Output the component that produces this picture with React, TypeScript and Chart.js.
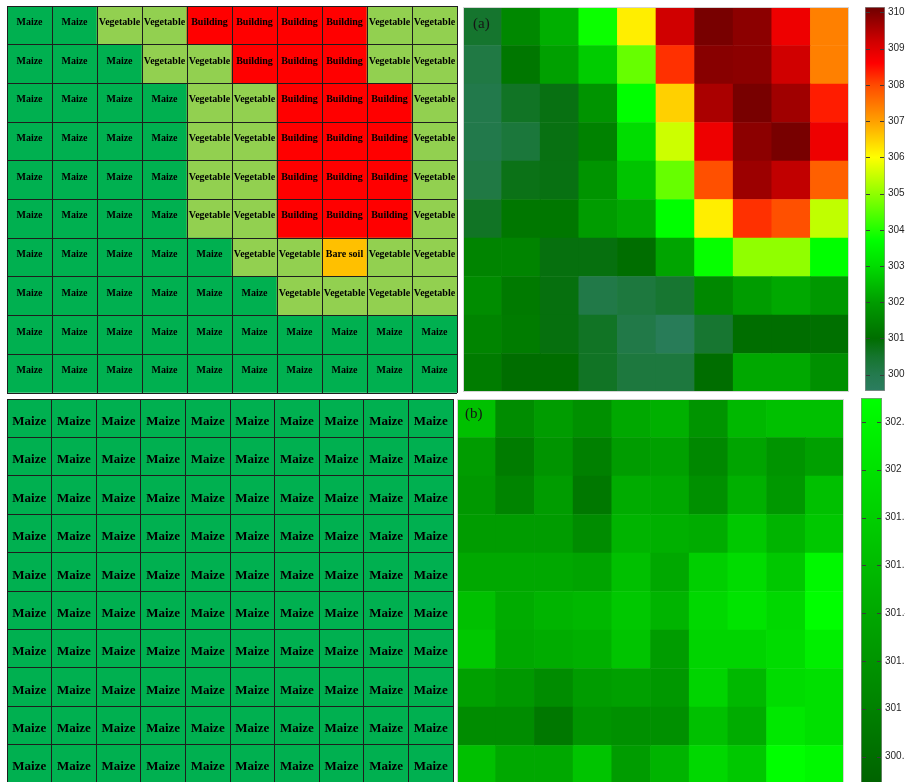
import React, { useEffect, useRef } from 'react';
import { Chart, registerables } from 'chart.js';

Chart.register(...registerables);

// ---------- data ----------
const COLUMNS = ['C1', 'C2', 'C3', 'C4', 'C5', 'C6', 'C7', 'C8', 'C9', 'C10'];

const M = 'Maize';
const V = 'Vegetable';
const B = 'Building';
const S = 'Bare soil';

// land use, top row first
const LANDUSE_A: string[][] = [
  [M, M, V, V, B, B, B, B, V, V],
  [M, M, M, V, V, B, B, B, V, V],
  [M, M, M, M, V, V, B, B, B, V],
  [M, M, M, M, V, V, B, B, B, V],
  [M, M, M, M, V, V, B, B, B, V],
  [M, M, M, M, V, V, B, B, B, V],
  [M, M, M, M, M, V, V, S, V, V],
  [M, M, M, M, M, M, V, V, V, V],
  [M, M, M, M, M, M, M, M, M, M],
  [M, M, M, M, M, M, M, M, M, M],
];

const LANDUSE_B: string[][] = [
  [M, M, M, M, M, M, M, M, M, M],
  [M, M, M, M, M, M, M, M, M, M],
  [M, M, M, M, M, M, M, M, M, M],
  [M, M, M, M, M, M, M, M, M, M],
  [M, M, M, M, M, M, M, M, M, M],
  [M, M, M, M, M, M, M, M, M, M],
  [M, M, M, M, M, M, M, M, M, M],
  [M, M, M, M, M, M, M, M, M, M],
  [M, M, M, M, M, M, M, M, M, M],
  [M, M, M, M, M, M, M, M, M, M],
];

const LANDUSE_COLORS: Record<string, string> = {
  Maize: '#00b050',
  Vegetable: '#92d050',
  Building: '#ff0000',
  'Bare soil': '#ffc000',
};

// temperature (K), top row first
const TEMP_A: number[][] = [
  [300.5, 301.57, 302.3, 303.8, 306.18, 309.2, 310.05, 309.86, 308.82, 307.37],
  [300.15, 301.2, 302.06, 302.75, 304.62, 308.21, 309.9, 309.86, 309.2, 307.37],
  [300.05, 300.6, 300.8, 301.83, 303.7, 306.49, 309.57, 310.05, 309.67, 308.37],
  [300.05, 300.3, 300.8, 301.43, 303.02, 305.54, 308.82, 309.86, 310.05, 308.82],
  [300.15, 300.75, 300.8, 301.83, 302.63, 304.62, 307.93, 309.7, 309.35, 307.74],
  [300.6, 301.2, 301.2, 302.0, 302.19, 303.7, 306.18, 308.21, 307.93, 305.43],
  [301.48, 301.48, 300.85, 300.85, 301.0, 302.13, 303.75, 305.0, 305.0, 303.7],
  [301.65, 301.26, 300.85, 300.1, 300.25, 300.45, 301.57, 302.0, 302.19, 301.91],
  [301.48, 301.3, 300.85, 300.6, 300.1, 299.75, 300.45, 301.0, 301.0, 301.05],
  [301.3, 301.0, 301.0, 300.6, 300.25, 300.25, 301.0, 302.19, 302.19, 301.74],
];

const TEMP_B: number[][] = [
  [301.65, 301.11, 301.28, 301.15, 301.4, 301.48, 301.2, 301.57, 301.65, 301.65],
  [301.28, 300.95, 301.2, 300.99, 301.28, 301.32, 301.07, 301.36, 301.2, 301.32],
  [301.24, 301.03, 301.28, 300.91, 301.44, 301.4, 301.15, 301.48, 301.24, 301.65],
  [301.28, 301.28, 301.28, 301.11, 301.53, 301.48, 301.44, 301.73, 301.53, 301.73],
  [301.4, 301.4, 301.4, 301.36, 301.65, 301.4, 301.81, 301.94, 301.73, 302.23],
  [301.65, 301.44, 301.53, 301.57, 301.73, 301.53, 301.9, 302.02, 301.9, 302.3],
  [301.73, 301.4, 301.44, 301.48, 301.69, 301.28, 301.86, 301.86, 301.94, 302.14],
  [301.32, 301.24, 301.11, 301.28, 301.32, 301.24, 301.86, 301.57, 301.94, 301.98],
  [301.11, 301.11, 300.91, 301.2, 301.15, 301.15, 301.65, 301.44, 302.06, 301.98],
  [301.65, 301.4, 301.4, 301.69, 301.28, 301.53, 301.9, 301.73, 302.3, 302.23],
];

const TICKS_A = [300, 301, 302, 303, 304, 305, 306, 307, 308, 309, 310];
const TICKS_B = [300.8, 301, 301.2, 301.4, 301.6, 301.8, 302, 302.2];
const RANGE_A: [number, number] = [299.55, 310.15];
const RANGE_B: [number, number] = [300.66, 302.3];

const CMAP_A: [number, string][] = [
  [299.55, '#2c7d60'],
  [300.0, '#247a4e'],
  [300.5, '#15752e'],
  [301.0, '#006e00'],
  [302.0, '#009c00'],
  [303.0, '#00dc00'],
  [303.7, '#00ff00'],
  [305.0, '#90ff00'],
  [306.0, '#ffff00'],
  [307.0, '#ffa000'],
  [308.0, '#ff4a00'],
  [308.6, '#ff0000'],
  [309.2, '#d00000'],
  [310.15, '#6e0000'],
];

const CMAP_B: [number, string][] = [
  [300.66, '#006000'],
  [302.3, '#00ff00'],
];

// ---------- helpers ----------
function hexRgb(h: string): [number, number, number] {
  const n = parseInt(h.slice(1), 16);
  return [(n >> 16) & 255, (n >> 8) & 255, n & 255];
}

function colorAt(stops: [number, string][], v: number): string {
  if (v <= stops[0][0]) return stops[0][1];
  if (v >= stops[stops.length - 1][0]) return stops[stops.length - 1][1];
  for (let i = 0; i < stops.length - 1; i++) {
    const [v0, c0] = stops[i];
    const [v1, c1] = stops[i + 1];
    if (v >= v0 && v <= v1) {
      const t = (v - v0) / (v1 - v0);
      const a = hexRgb(c0);
      const b = hexRgb(c1);
      const r = a.map((x, k) => Math.round(x + (b[k] - x) * t));
      return `rgb(${r[0]},${r[1]},${r[2]})`;
    }
  }
  return stops[0][1];
}

// ---------- plugins ----------
const cellLabelPlugin = {
  id: 'cellLabels',
  afterDraw(chart: any, _args: any, opts: any) {
    if (!opts || !opts.labels) return;
    const ctx = chart.ctx;
    const rows = opts.labels.length;
    ctx.save();
    ctx.font = opts.font;
    ctx.fillStyle = '#000';
    ctx.textAlign = 'center';
    ctx.textBaseline = 'middle';
    chart.data.datasets.forEach((_ds: any, di: number) => {
      const meta = chart.getDatasetMeta(di);
      const r = rows - 1 - di;
      meta.data.forEach((el: any, c: number) => {
        const txt = opts.labels[r][c];
        ctx.fillText(txt, el.x, (el.y + el.base) / 2 + (opts.dy || 0));
      });
    });
    ctx.restore();
  },
};

const framePlugin = {
  id: 'frame',
  afterDraw(chart: any, _args: any, opts: any) {
    if (!opts || !opts.color) return;
    const { left, top, right, bottom } = chart.chartArea;
    const ctx = chart.ctx;
    ctx.save();
    ctx.strokeStyle = opts.color;
    ctx.lineWidth = 1;
    ctx.strokeRect(Math.round(left) + 0.5, Math.round(top) + 0.5, Math.round(right - left) - 1, Math.round(bottom - top) - 1);
    ctx.restore();
  },
};

const panelTagPlugin = {
  id: 'panelTag',
  afterDraw(chart: any, _args: any, opts: any) {
    if (!opts || !opts.text) return;
    const ctx = chart.ctx;
    ctx.save();
    ctx.font = '15px "Liberation Serif", serif';
    ctx.fillStyle = '#151515';
    ctx.textAlign = 'left';
    ctx.textBaseline = 'middle';
    ctx.fillText(opts.text, chart.chartArea.left + opts.dx, chart.chartArea.top + opts.dy);
    ctx.restore();
  },
};

const cbTicksPlugin = {
  id: 'cbTicks',
  afterDatasetsDraw(chart: any) {
    const y = chart.scales.y;
    const { left, right } = chart.chartArea;
    const ctx = chart.ctx;
    ctx.save();
    ctx.strokeStyle = '#3a3a3a';
    ctx.lineWidth = 1;
    ctx.beginPath();
    y.ticks.forEach((t: any) => {
      const py = Math.round(y.getPixelForValue(t.value)) + 0.5;
      ctx.moveTo(left + 1, py);
      ctx.lineTo(left + 5, py);
      ctx.moveTo(right - 5, py);
      ctx.lineTo(right - 1, py);
    });
    ctx.stroke();
    ctx.restore();
  },
};

// ---------- config builders ----------
function landuseConfig(labels: string[][], font: string, dy: number) {
  const rows = labels.length;
  const datasets = labels
    .map((row, r) => ({
      label: `row ${r + 1}`,
      data: row.map(() => 1),
      backgroundColor: row.map((t) => LANDUSE_COLORS[t]),
      borderWidth: 0,
      barPercentage: 1,
      categoryPercentage: 1,
    }))
    .reverse();
  const gridLine = { display: true, color: '#1e1e1e', lineWidth: 1, drawTicks: false, drawOnChartArea: true, z: 1 };
  return {
    type: 'bar',
    data: { labels: COLUMNS, datasets },
    options: {
      responsive: false,
      animation: false,
      events: [],
      layout: { padding: 1 },
      plugins: {
        legend: { display: false },
        tooltip: { enabled: false },
        cellLabels: { labels, font, dy },
      },
      scales: {
        x: {
          stacked: true,
          grid: { ...gridLine, offset: true },
          border: { display: false },
          ticks: { display: false },
          afterFit: (s: any) => { s.height = 0; },
        },
        y: {
          stacked: true,
          min: 0,
          max: rows,
          grid: gridLine,
          border: { display: false },
          ticks: { display: false, stepSize: 1 },
          afterFit: (s: any) => { s.width = 0; },
        },
      },
    },
    plugins: [cellLabelPlugin],
  };
}

function heatmapConfig(values: number[][], stops: [number, string][], tag: string, dx: number, dy: number) {
  const rows = values.length;
  const datasets = values
    .map((row, r) => ({
      label: `row ${r + 1}`,
      data: row.map(() => 1),
      backgroundColor: row.map((v) => colorAt(stops, v)),
      borderWidth: 0,
      barPercentage: 1,
      categoryPercentage: 1,
    }))
    .reverse();
  return {
    type: 'bar',
    data: { labels: COLUMNS, datasets },
    options: {
      responsive: false,
      animation: false,
      events: [],
      layout: { padding: 0 },
      plugins: {
        legend: { display: false },
        tooltip: { enabled: false },
        frame: { color: '#d4d4d4' },
        panelTag: { text: tag, dx, dy },
      },
      scales: {
        x: { display: false, stacked: true },
        y: { display: false, stacked: true, min: 0, max: rows },
      },
    },
    plugins: [framePlugin, panelTagPlugin],
  };
}

function colorbarConfig(range: [number, number], stops: [number, string][], ticks: number[], axisWidth: number, padTop: number, padBottom: number) {
  return {
    type: 'bar',
    data: {
      labels: ['scale'],
      datasets: [
        {
          label: 'colorbar',
          data: [[range[0], range[1]]],
          backgroundColor: (c: any) => {
            const chart = c.chart;
            const area = chart.chartArea;
            if (!area) return stops[0][1];
            const ys = chart.scales.y;
            const y0 = ys.getPixelForValue(range[0]);
            const y1 = ys.getPixelForValue(range[1]);
            const g = chart.ctx.createLinearGradient(0, y0, 0, y1);
            stops.forEach(([v, col]) => {
              const t = Math.min(1, Math.max(0, (v - range[0]) / (range[1] - range[0])));
              g.addColorStop(t, col);
            });
            return g;
          },
          borderColor: '#8c8c8c',
          borderWidth: 1,
          borderSkipped: false,
          barPercentage: 1,
          categoryPercentage: 1,
        },
      ],
    },
    options: {
      responsive: false,
      animation: false,
      events: [],
      layout: { padding: { top: padTop, bottom: padBottom, left: 0, right: 0 } },
      plugins: { legend: { display: false }, tooltip: { enabled: false } },
      scales: {
        x: { display: false },
        y: {
          position: 'right',
          min: range[0],
          max: range[1],
          grid: { display: false, drawTicks: false },
          border: { display: false },
          afterBuildTicks: (s: any) => { s.ticks = ticks.map((v) => ({ value: v })); },
          afterFit: (s: any) => { s.width = axisWidth; s.paddingTop = 0; s.paddingBottom = 0; },
          ticks: {
            padding: 3,
            color: '#262626',
            font: { family: '"Liberation Sans", Arial, sans-serif', size: 10 },
            callback: (v: any) => String(Math.round(Number(v) * 10) / 10),
          },
        },
      },
    },
    plugins: [cbTicksPlugin],
  };
}

// ---------- components ----------
function ChartBox(props: { left: number; top: number; width: number; height: number; make: () => any }) {
  const ref = useRef<HTMLCanvasElement>(null);
  useEffect(() => {
    const chart = new Chart(ref.current as HTMLCanvasElement, props.make());
    return () => chart.destroy();
  }, []);
  return (
    <canvas
      ref={ref}
      width={props.width}
      height={props.height}
      style={{ position: 'absolute', left: props.left, top: props.top, width: props.width, height: props.height }}
    />
  );
}

export default function App() {
  return (
    <div style={{ position: 'fixed', left: 0, top: 0, width: 905, height: 782, overflow: 'hidden', background: '#ffffff' }}>
      <ChartBox left={6} top={5} width={452} height={389}
        make={() => landuseConfig(LANDUSE_A, 'bold 10px "Liberation Serif", serif', -3)} />
      <ChartBox left={6} top={398} width={448} height={386}
        make={() => landuseConfig(LANDUSE_B, 'bold 13px "Liberation Serif", serif', 3.5)} />
      <ChartBox left={463} top={7} width={386} height={385}
        make={() => heatmapConfig(TEMP_A, CMAP_A, '(a)', 10, 17)} />
      <ChartBox left={457} top={399} width={387} height={385}
        make={() => heatmapConfig(TEMP_B, CMAP_B, '(b)', 8, 15)} />
      <ChartBox left={865} top={0} width={40} height={395}
        make={() => colorbarConfig(RANGE_A, CMAP_A, TICKS_A, 20, 7, 4)} />
      <ChartBox left={861} top={398} width={44} height={392}
        make={() => colorbarConfig(RANGE_B, CMAP_B, TICKS_B, 23, 0, 0)} />
    </div>
  );
}
